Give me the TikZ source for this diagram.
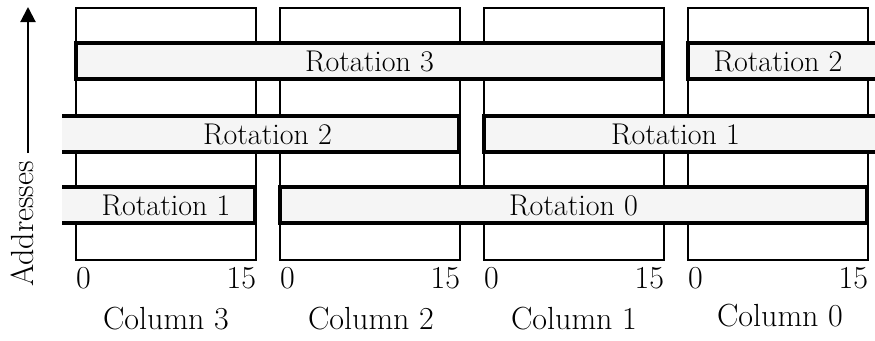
\documentclass[tikz,border=0pt]{standalone}
\usepackage{fontspec}
\usetikzlibrary{arrows.meta}
\begin{document}
\begin{tikzpicture}[x=1pt,y=-1pt,
  colbox/.style={draw, line width=2.4pt, minimum width=180pt, minimum height=252pt, inner sep=0pt, outer sep=0pt, anchor=north west},
  barbox/.style={fill=black!4, minimum height=36pt, inner sep=0pt, outer sep=0pt, anchor=north west},
  barline/.style={line width=3.2pt},
  txt/.style={font=\fontsize{30}{36}\selectfont, inner sep=0pt, outer sep=0pt},
  bigtxt/.style={font=\fontsize{32}{38}\selectfont, inner sep=0pt, outer sep=0pt}]
\useasboundingbox (0,0) rectangle (875,340);
% columns
\node[colbox] (c3) at (76,8) {};
\node[colbox] (c2) at (280,8) {};
\node[colbox] (c1) at (484,8) {};
\node[colbox] (c0) at (688,8) {};
% bars
\node[barbox, draw, barline, minimum width=587pt] (r3) at (76,43) {};
\node[barbox, minimum width=200pt] (r2t) at (688,43) {};
\draw[barline] (r2t.north east) -- (r2t.north west) -- (r2t.south west) -- (r2t.south east);
\node[barbox, minimum width=397pt] (r2m) at (62,116) {};
\draw[barline] (r2m.north west) -- (r2m.north east) -- (r2m.south east) -- (r2m.south west);
\node[barbox, minimum width=400pt] (r1m) at (484,116) {};
\draw[barline] (r1m.north east) -- (r1m.north west) -- (r1m.south west) -- (r1m.south east);
\node[barbox, minimum width=193pt] (r1b) at (62,187) {};
\draw[barline] (r1b.north west) -- (r1b.north east) -- (r1b.south east) -- (r1b.south west);
\node[barbox, draw, barline, minimum width=587pt] (r0) at (280,187) {};
% bar labels
\node[txt] (l3) at (r3.center) {Rotation 3};
\node[txt] (l2t) at (778,61) {Rotation 2};
\node[txt] (l2m) at (267.5,134) {Rotation 2};
\node[txt] (l1m) at (675.5,134) {Rotation 1};
\node[txt] (l1b) at (166,205) {Rotation 1};
\node[txt] (l0) at (r0.center) {Rotation 0};
% index labels
\foreach \c in {c3,c2,c1,c0}{
  \node[bigtxt, anchor=base west] (\c z) at ([yshift=-28pt]\c.south west) {0};
  \node[bigtxt, anchor=base east] (\c f) at ([yshift=-28pt]\c.south east) {15};
}
% column labels
\node[bigtxt, anchor=base] (n3) at (166,329) {Column 3};
\node[bigtxt, anchor=base] (n2) at (371,329) {Column 2};
\node[bigtxt, anchor=base] (n1) at (574,329) {Column 1};
\node[bigtxt, anchor=base] (n0) at (780,326) {Column 0};
% addresses axis
\coordinate (abot) at (28,153);
\coordinate (atop) at (28,7);
\draw[line width=2pt, -{Triangle[width=15pt,length=15pt]}] (abot) -- (atop);
\node[bigtxt, rotate=90, anchor=base] (addr) at (33,224) {Addresses};
\end{tikzpicture}
\end{document}
